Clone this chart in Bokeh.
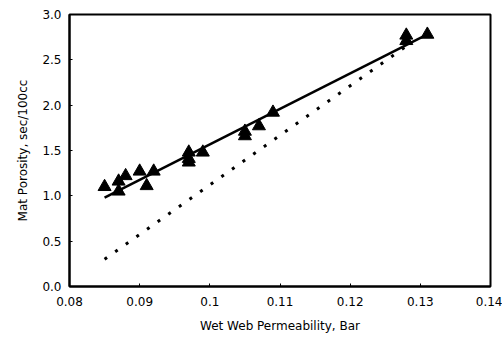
from bokeh.plotting import figure
from bokeh.models import Range1d, FixedTicker, Title
from bokeh.embed import file_html
from bokeh.resources import INLINE

# Measured data (triangles)
perm = [0.085, 0.087, 0.087, 0.088, 0.090, 0.091, 0.092, 0.097, 0.097, 0.097,
        0.099, 0.105, 0.105, 0.107, 0.109, 0.128, 0.128, 0.131]
porosity = [1.10, 1.16, 1.05, 1.22, 1.27, 1.11, 1.27, 1.48, 1.41, 1.37,
            1.48, 1.71, 1.66, 1.77, 1.92, 2.77, 2.71, 2.78]

# Fitted (solid) line
fit_x = [0.085, 0.131]
fit_y = [0.98, 2.78]

# Dotted line
dot_x = [0.085, 0.128]
dot_y = [0.30, 2.65]

x_ticks = [0.08, 0.09, 0.10, 0.11, 0.12, 0.13, 0.14]
x_tick_labels = ["0.08", "0.09", "0.1", "0.11", "0.12", "0.13", "0.14"]
y_ticks = [0.0, 0.5, 1.0, 1.5, 2.0, 2.5, 3.0]
y_tick_labels = ["0.0", "0.5", "1.0", "1.5", "2.0", "2.5", "3.0"]

p = figure(width=502, height=343, output_backend="svg", toolbar_location=None,
           x_range=Range1d(0.08, 0.14), y_range=Range1d(0, 3.0),
           min_border_left=69, min_border_right=12, min_border_top=14, min_border_bottom=57)
p.frame_width = 421
p.frame_height = 272
p.grid.visible = False
p.background_fill_color = "white"
p.border_fill_color = "white"
p.outline_line_color = "black"
p.outline_line_width = 2

p.line(dot_x, dot_y, line_color="black", line_width=3, line_dash="3 10")
p.line(fit_x, fit_y, line_color="black", line_width=2.5)
p.scatter(perm, porosity, marker="triangle", size=13, fill_color="black", line_color="black")

font = "DejaVu Sans"
for ax in (p.xaxis[0], p.yaxis[0]):
    ax.axis_line_color = "black"
    ax.axis_line_width = 2
    ax.major_tick_in = 3
    ax.major_tick_out = 0
    ax.minor_tick_line_color = None
    ax.major_tick_line_color = "black"
    ax.major_label_text_font = font
    ax.major_label_text_font_size = "12px"
    ax.major_label_text_color = "black"
    ax.axis_label_text_font = font
    ax.axis_label_text_font_size = "12px"
    ax.axis_label_text_font_style = "normal"
    ax.axis_label_text_color = "black"

p.xaxis.ticker = FixedTicker(ticks=x_ticks)
p.xaxis.major_label_overrides = dict(zip(x_ticks, x_tick_labels))
p.yaxis.ticker = FixedTicker(ticks=y_ticks)
p.yaxis.major_label_overrides = dict(zip(y_ticks, y_tick_labels))
p.xaxis.axis_label = "Wet Web Permeability, Bar"
p.xaxis.major_label_standoff = 10
p.xaxis.axis_label_standoff = 10
p.yaxis.major_label_standoff = 8

ylabel = Title(text="Mat Porosity, sec/100cc", align="center", offset=-14,
               text_font=font, text_font_size="12px", text_font_style="normal",
               text_color="black", standoff=20)
p.add_layout(ylabel, "left")

open("out.html", "w").write(file_html(p, INLINE))
